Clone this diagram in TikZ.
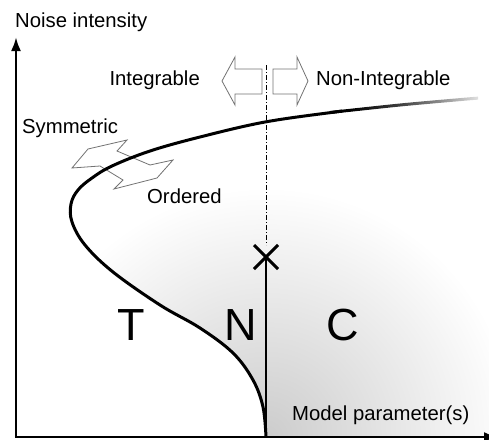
\documentclass[tikz,border=0pt]{standalone}
\usepackage{fontspec}
\setmainfont{Liberation Sans}
\usetikzlibrary{arrows.meta}
\pgfdeclarehorizontalshading{curvefade}{100bp}{color(0bp)=(black); color(32bp)=(black); color(49bp)=(black!75); color(62bp)=(black!45); color(75bp)=(black!12); color(100bp)=(black!12)}
\begin{document}
\begin{tikzpicture}[x=1pt,y=-1pt,
  lbl/.style={inner sep=0pt, font=\fontsize{20.3}{23}\selectfont},
  big/.style={inner sep=0pt, font=\fontsize{45}{50}\selectfont},
  outl/.style={draw=black!55, line width=0.8pt, line join=miter},
  axis/.style={line width=2.5pt, -{Latex[length=14pt,width=10pt]}},
  phase/.style={line width=3pt, line cap=butt}]
\useasboundingbox (0,0) rectangle (489,439);
\clip (0,0) rectangle (489,439);
% background shading of N and C regions
\begin{scope}
  \clip plot[smooth, tension=0.6] coordinates {(266,437) (263,407) (253,380) (233,353) (200,328) (160,305) (113,272) (85,245) (72,222) (71,204) (78,190) (92,178) (112,166) (150,151) (200,137) (265,122) (335,112) (400,105) (467,99) (489,97)} -- (489,437) -- cycle;
  \shade[inner color=black!20, outer color=white] (266,437) circle (250pt);
\end{scope}
% dash-dot separator
\coordinate (sepTop) at (266,65);
\coordinate (crossC) at (266,257);
\coordinate (sepBot) at (266,245);
\draw[line width=0.7pt, dash pattern=on 5pt off 2pt on 1pt off 2pt] (sepTop) -- (sepBot);
% block arrows
\draw[outl, fill=white] (222,81) -- (235,57) -- (235,69) -- (262,69) -- (262,94) -- (235,94) -- (235,105) -- cycle;
\draw[outl, fill=white] (308,81) -- (297,57) -- (297,69) -- (273,69) -- (273,94) -- (297,94) -- (297,105) -- cycle;
% zigzag double arrow
\draw[outl] (72,168) -- (88,149) -- (127,140) -- (117,151) -- (150,165) -- (173,160) -- (157,178) -- (114,189) -- (123,180) -- (100,166) -- cycle;
% phase boundary curve
\draw[phase] plot[smooth, tension=0.6] coordinates {(266,437) (263,407) (253,380) (233,353) (200,328) (160,305) (113,272) (85,245) (72,222) (71,204) (78,190) (92,178) (112,166) (150,151) (200,137) (265,122) (335,112) (340,111.5)};
\shade[shading=curvefade] plot[smooth] coordinates {(330,111) (400,103.5) (467,97.5) (478,96.7)} -- plot[smooth] coordinates {(478,99.7) (467,100.5) (400,106.5) (330,114)} -- cycle;
% vertical boundary and cross
\coordinate (vBot) at (266,437);
\draw[line width=2pt] (vBot) -- (crossC);
\draw[line width=3pt] ([shift={(-12,-12)}]crossC) -- ([shift={(12,12)}]crossC);
\draw[line width=3pt] ([shift={(-12,12)}]crossC) -- ([shift={(12,-12)}]crossC);
% axes
\coordinate (O) at (16,437);
\coordinate (Ytop) at (16,37);
\coordinate (Xend) at (498,437);
\draw[axis] (O) -- (Ytop);
\draw[axis] ([xshift=-1.25pt]O) -- (Xend);
% labels
\node[lbl, anchor=base west] (ylab) at (15,27) {Noise intensity};
\node[lbl, anchor=base east] (integ) at (200,85) {Integrable};
\node[lbl, anchor=base west] (noninteg) at (316,85) {Non-Integrable};
\node[lbl, anchor=base west] (sym) at (22,133) {Symmetric};
\node[lbl, anchor=base west] (ord) at (147,203) {Ordered};
\node[lbl, anchor=base west] (xlab) at (292,420) {Model parameter(s)};
\node[big, anchor=base] (T) at (131.5,340) {T};
\node[big, anchor=base] (N) at (241,340) {N};
\node[big, anchor=base] (C) at (343,340) {C};
\end{tikzpicture}
\end{document}
